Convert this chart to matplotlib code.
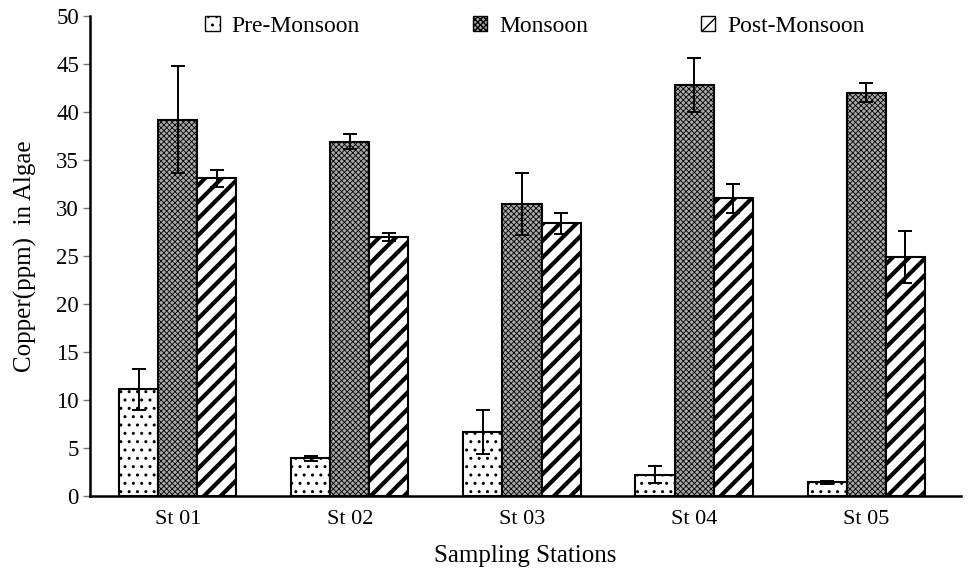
import numpy as np
import matplotlib.pyplot as plt

plt.rcParams['font.family'] = ['Liberation Serif', 'DejaVu Serif']

stations = ['St 01', 'St 02', 'St 03', 'St 04', 'St 05']
pre_monsoon = [11.1, 3.9, 6.7, 2.2, 1.4]
pre_err = [2.1, 0.3, 2.3, 0.9, 0.2]
monsoon = [39.2, 36.9, 30.4, 42.8, 42.0]
monsoon_err = [5.6, 0.8, 3.2, 2.8, 1.0]
post_monsoon = [33.1, 27.0, 28.4, 31.0, 24.9]
post_err = [0.9, 0.4, 1.1, 1.5, 2.7]

x = np.arange(len(stations))
w = 0.227

fig = plt.figure(figsize=(9.73, 5.7), dpi=100)
ax = fig.add_axes([0.0925, 0.13, 0.895, 0.842])

err_kw = dict(ecolor='black', elinewidth=1.4, capsize=5, capthick=1.4)

series = [
    (pre_monsoon, pre_err, 'Pre-Monsoon', 'white', '..', 1.0, -w),
    (monsoon, monsoon_err, 'Monsoon', '#a8a8a8', 'xxxxxx', 0.6, 0),
    (post_monsoon, post_err, 'Post-Monsoon', 'white', '//', 3.0, w),
]
for vals, errs, name, fc, hatch, hlw, off in series:
    bars = ax.bar(x + off, vals, w, yerr=errs, label=name, facecolor=fc,
                  edgecolor='black', linewidth=1.5, hatch=hatch,
                  error_kw=err_kw, zorder=2)
    for b in bars:
        if hasattr(b, 'set_hatch_linewidth'):
            b.set_hatch_linewidth(hlw)

ax.set_xlim(-0.51, 4.55)
ax.set_ylim(0, 50)
ax.set_yticks(range(0, 51, 5))
ax.set_xticks(x)
ax.set_xticklabels(stations)
ax.tick_params(axis='x', length=0, labelsize=16, pad=10)
ax.tick_params(axis='y', length=5, width=1, color='#777777', labelsize=16.5, pad=3)

for s in ['top', 'right']:
    ax.spines[s].set_visible(False)
ax.spines['left'].set_linewidth(1.8)
ax.spines['bottom'].set_linewidth(1.8)

ax.set_xlabel('Sampling Stations', fontsize=18, labelpad=12)
ax.set_ylabel('Copper(ppm)  in Algae', fontsize=18, labelpad=14)

leg = ax.legend(loc='upper center', bbox_to_anchor=(0.511, 1.045), ncol=3,
                frameon=False, fontsize=17, handlelength=0.6, handleheight=0.6,
                handletextpad=0.5, columnspacing=4.8)
for h in leg.legend_handles:
    h.set_linewidth(1.0)

fig.savefig('out.png', dpi=100)
